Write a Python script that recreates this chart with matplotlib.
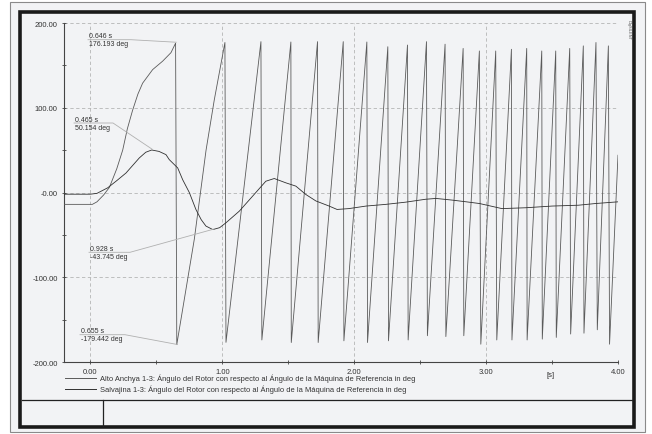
import matplotlib
matplotlib.use("Agg")
import matplotlib.pyplot as plt
from matplotlib.patches import Rectangle
from matplotlib.lines import Line2D
import matplotlib.transforms as mtransforms

plt.rcParams['font.family'] = ['Liberation Sans', 'DejaVu Sans']

# ---------------- data ----------------
# Alto Anchicaya (pole slipping, wraps at +/-180 deg)
rise0_t = [-0.2, 0.015, 0.05, 0.10, 0.144, 0.20, 0.245, 0.28, 0.32, 0.36, 0.396, 0.472, 0.548, 0.611]
rise0_v = [-14, -14, -11, -3, 6, 28, 50, 75, 97, 116, 129, 145, 155, 165]
peak_t = [0.646, 1.020, 1.293, 1.520, 1.722, 1.917, 2.096, 2.255, 2.404, 2.548, 2.689,
          2.826, 2.949, 3.073, 3.192, 3.308, 3.422, 3.528, 3.634, 3.737, 3.833, 3.927]
peak_v = [176.193, 177, 178, 177.6, 178, 178, 177.6, 172, 174, 178, 175,
          170, 167, 167, 169, 170, 167, 167, 170, 173, 177, 173]
trough_t = [0.655, 1.028, 1.300, 1.523, 1.727, 1.922, 2.101, 2.260, 2.409, 2.555, 2.695,
            2.831, 2.960, 3.081, 3.196, 3.311, 3.426, 3.532, 3.641, 3.742, 3.843, 3.936]
trough_v = [-179.442, -176.8, -174, -177, -177, -175, -177, -175, -174, -169, -170,
            -169, -179, -174, -174, -174, -173, -171, -167, -166, -162, -179]
first_rise_t = [0.788, 0.877, 0.939]
first_rise_v = [-55, 50, 109]
end_t, end_v = 4.0, 44

# Salvajina
osc_t = [-0.2, 0.0, 0.05, 0.131, 0.20, 0.27, 0.371, 0.42, 0.465, 0.52, 0.573, 0.598, 0.662,
         0.70, 0.75, 0.80, 0.84, 0.876, 0.928, 0.98, 1.028, 1.129, 1.23, 1.33, 1.394, 1.482,
         1.558, 1.634, 1.71, 1.81, 1.87, 1.96, 2.09, 2.24, 2.39, 2.54, 2.62, 2.745, 2.85,
         2.95, 3.12, 3.30, 3.50, 3.70, 3.83, 4.0]
osc_v = [-2, -2, -1, 5.5, 14, 23, 40.8, 47.5, 50.154, 48.5, 44.7, 38.8, 29,
         15, 0, -20, -32, -39.6, -43.745, -41.5, -35.7, -22, -4.3, 13.3, 16.5, 11.4,
         7.5, -2.4, -10, -16, -20, -19, -16, -14, -11.4, -8, -7, -9, -11,
         -13, -19, -18, -16, -15, -13, -11]

annotations = [
    ("0.646 s", "176.193 deg", 0.646, 176.193),
    ("0.465 s", "50.154 deg", 0.465, 50.154),
    ("0.928 s", "-43.745 deg", 0.928, -43.745),
    ("0.655 s", "-179.442 deg", 0.655, -179.442),
]
ann_pos = [(88, 40.7, 131), (74, 124, 113), (89, 253.3, 130), (80, 335.7, 125)]

yticks = [200, 100, 0, -100, -200]
ytick_labels = ["200.00", "100.00", "-0.00", "-100.00", "-200.00"]
xticks = [0, 1, 2, 3, 4]
xtick_labels = ["0.00", "1.00", "2.00", "3.00", "4.00"]

legend_labels = [
    "Alto Anchya 1-3: Ángulo del Rotor con respecto al Ángulo de la Máquina de Referencia in deg",
    "Salvajina 1-3: Ángulo del Rotor con respecto al Ángulo de la Máquina de Referencia in deg",
]

# build sawtooth series
saw_t = list(rise0_t)
saw_v = list(rise0_v)
for i in range(len(peak_t)):
    saw_t.append(peak_t[i]); saw_v.append(peak_v[i])
    saw_t.append(trough_t[i]); saw_v.append(trough_v[i])
    if i == 0:
        saw_t += first_rise_t; saw_v += first_rise_v
saw_t.append(end_t); saw_v.append(end_v)

# ---------------- figure ----------------
W, H = 652, 435
fig = plt.figure(figsize=(W / 100, H / 100), dpi=100, facecolor='white')

def fx(px):
    return px / W

def fy(py):
    return 1 - py / H

bg = '#f2f3f5'
fig.add_artist(Rectangle((fx(10), fy(433)), fx(645) - fx(10), fy(3) - fy(433),
                         transform=fig.transFigure, facecolor=bg, edgecolor='#8a8a8a',
                         linewidth=0.8, zorder=-3))
fig.add_artist(Rectangle((fx(20), fy(428)), fx(634) - fx(20), fy(13) - fy(428),
                         transform=fig.transFigure, facecolor=bg, edgecolor='#1a1a1a',
                         linewidth=2.6, zorder=-2))
# table at bottom
fig.add_artist(Line2D([fx(22), fx(632)], [fy(401), fy(401)], transform=fig.transFigure,
                      color='#222222', linewidth=0.9))
fig.add_artist(Line2D([fx(103), fx(103)], [fy(401), fy(427)], transform=fig.transFigure,
                      color='#222222', linewidth=0.9))

ax = fig.add_axes([fx(64), fy(363), fx(618) - fx(64), fy(24) - fy(363)])
ax.set_zorder(1)
ax.patch.set_alpha(0)
ax.set_xlim(-0.2, 4.0)
ax.set_ylim(-200, 200)

for s in ['top', 'right']:
    ax.spines[s].set_visible(False)
for s in ['left', 'bottom']:
    ax.spines[s].set_color('#444444')
    ax.spines[s].set_linewidth(0.8)

ax.set_xticks(xticks)
ax.set_xticklabels(xtick_labels)
ax.set_yticks(yticks)
ax.set_yticklabels(ytick_labels)
ax.set_xticks([0.5, 1.5, 2.5, 3.5], minor=True)
ax.set_yticks([150, 50, -50, -150], minor=True)
ax.tick_params(axis='both', which='major', labelsize=5.5, colors='#444444',
               labelcolor='#333333', direction='inout', length=3, width=0.6)
ax.tick_params(axis='both', which='minor', direction='inout', length=2.5, width=0.6,
               colors='#444444')
ax.tick_params(axis='y', pad=3)
ax.tick_params(axis='x', pad=3)

for xv in xticks:
    ax.axvline(xv, color='#b5b5b5', linewidth=0.6, linestyle=(0, (4, 3)), zorder=1)
for yv in yticks:
    ax.axhline(yv, color='#b5b5b5', linewidth=0.6, linestyle=(0, (4, 3)), zorder=1)

trans = mtransforms.blended_transform_factory(ax.transData, ax.transAxes)
ax.text(3.485, -0.027, "[s]", transform=trans, fontsize=5.5, color='#333333',
        ha='center', va='top')

ax.plot(saw_t, saw_v, color='#5a5a5a', linewidth=0.6, zorder=3)
ax.plot(osc_t, osc_v, color='#303030', linewidth=0.6, zorder=3)

# annotations (leader lines in figure pixels)
for (l1, l2, tx, vy), (px, py, pend) in zip(annotations, ann_pos):
    dx = fx(91 + tx * 132)
    dy = fy(193 - vy * 0.85)
    fig.add_artist(Line2D([fx(px), fx(pend), dx], [fy(py), fy(py), dy],
                          transform=fig.transFigure, color='#b0b0b0', linewidth=0.6,
                          zorder=4))
    fig.text(fx(px + 1), fy(py - 0.5), l1, fontsize=5, color='#333333',
             ha='left', va='bottom')
    fig.text(fx(px + 1), fy(py + 0.5), l2, fontsize=5, color='#333333',
             ha='left', va='top')

# legend
for i, (lab, col) in enumerate(zip(legend_labels, ['#5a5a5a', '#303030'])):
    yy = 379 + i * 11
    fig.add_artist(Line2D([fx(65), fx(96)], [fy(yy), fy(yy)], transform=fig.transFigure,
                          color=col, linewidth=0.7))
    fig.text(fx(100), fy(yy), lab, fontsize=5.4, color='#333333', ha='left',
             va='center')

fig.text(fx(629), fy(20), "DIgSILENT", fontsize=2.8, color='#555555', rotation=270,
         ha='center', va='top')

fig.savefig("out.png", dpi=100, facecolor=fig.get_facecolor())
